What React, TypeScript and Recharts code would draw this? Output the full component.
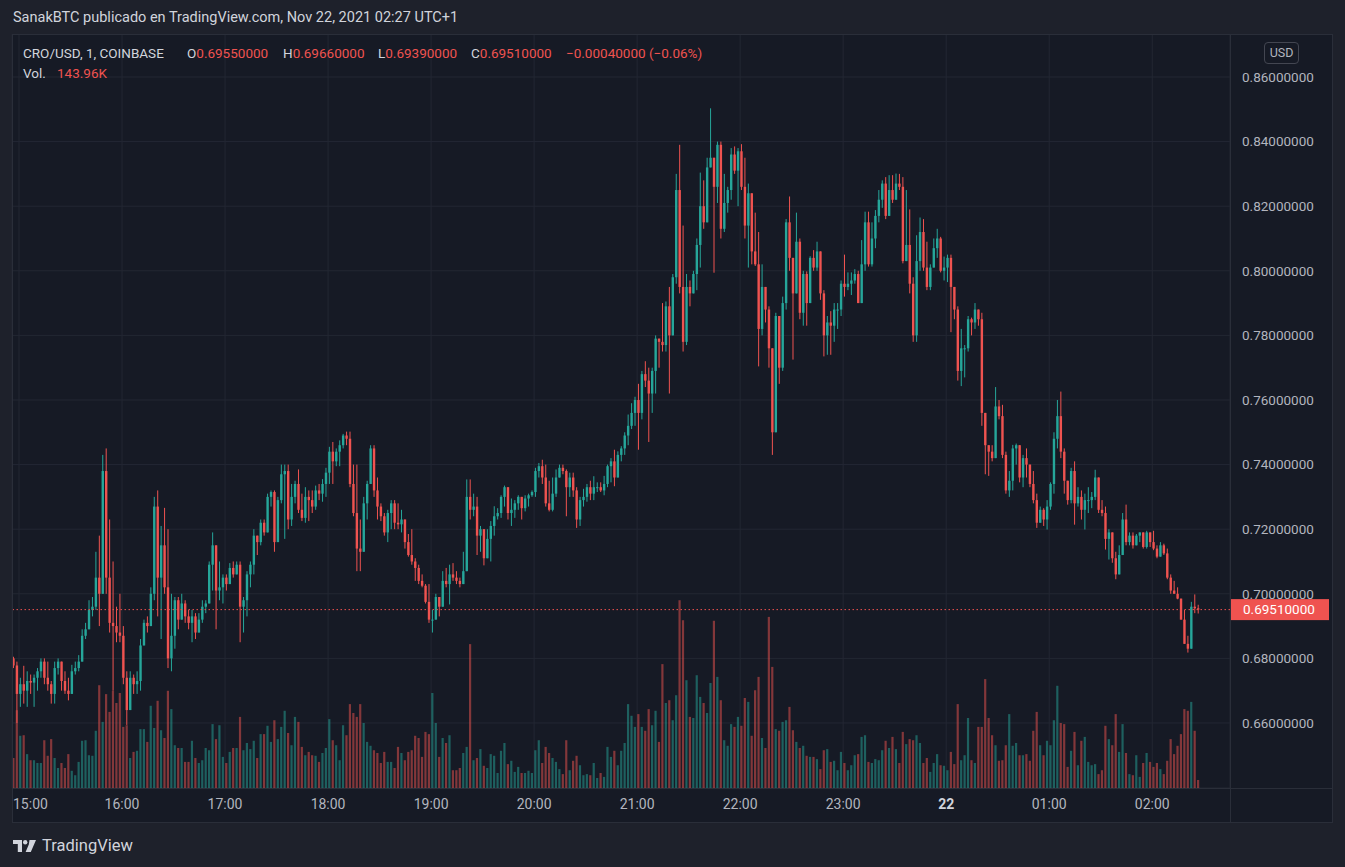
import { ComposedChart, Bar, Cell, XAxis, YAxis, CartesianGrid, ReferenceLine } from 'recharts'

// Prices are in 1/10000 USD, volumes in thousands.
const UP = '#26a69a'
const DOWN = '#ef5350'
const PANE = '#161a25'
const PAGE = '#1e212b'
const GRID = '#232733'
const BORDER = '#2a2e39'
const AXIS_TEXT = '#b2b5be'
const TITLE_TEXT = '#d1d4dc'
const FONT = 'Roboto, "Noto Sans", sans-serif'

const firstCandleMin = -4 // minutes after 15:00
const candleMinutes = 2
const firstOpen = 6800

const closes = [
  6778, 6690, 6720, 6700, 6730, 6725, 6740, 6760, 6790, 6740, 6720, 6690, 6770, 6790, 6730, 6700, 6690, 6760, 6770, 6790, 6870, 6890, 6950, 6960, 7050, 7000, 7380, 7050, 6910, 6900, 6880, 6870,
  6740, 6640, 6740, 6720, 6730, 6840, 6910, 6900, 7000, 7270, 7050, 7150, 7020, 6800, 6870, 6980, 6920, 6970, 6930, 6910, 6930, 6880, 6920, 6960, 6970, 7090, 7150, 7010, 7020, 7050,
  7030, 7080, 7060, 7090, 6960, 6980, 7060, 7090, 7180, 7160, 7220, 7190, 7300, 7315, 7160, 7290, 7370, 7380, 7230, 7300, 7340, 7260, 7235, 7300, 7290, 7270, 7320, 7310, 7340, 7375,
  7440, 7410, 7440, 7460, 7490, 7480, 7340, 7250, 7140, 7130, 7280, 7340, 7450, 7320, 7270, 7240, 7190, 7250, 7280, 7220, 7215, 7230, 7160, 7120, 7100, 7080, 7040, 7025, 6975, 6920,
  6920, 6990, 6960, 7040, 7030, 7060, 7050, 7040, 7030, 7070, 7300, 7260, 7270, 7180, 7200, 7110, 7170, 7210, 7240, 7250, 7300, 7330, 7250, 7260, 7280, 7300, 7265, 7295, 7305, 7315,
  7380, 7395, 7360, 7280, 7260, 7310, 7360, 7390, 7380, 7330, 7360, 7320, 7230, 7290, 7300, 7330, 7310, 7330, 7330, 7320, 7340, 7395, 7410, 7360, 7430, 7450, 7490, 7520, 7560, 7600,
  7560, 7680, 7660, 7620, 7690, 7790, 7780, 7770, 7890, 7800, 7980, 8250, 7950, 7780, 7950, 7930, 7990, 8080, 8200, 8150, 8320, 8350, 8260, 8390, 8130, 8210, 8250, 8360, 8310, 8370,
  8260, 8140, 8240, 8060, 8020, 7820, 7950, 7880, 7760, 7500, 7860, 7700, 7900, 8150, 8040, 7930, 8090, 7870, 7990, 7900, 8040, 8010, 8060, 7930, 7800, 7840, 7830, 7880, 7880, 7960,
  7950, 7960, 7970, 7990, 7900, 8020, 8150, 8020, 8100, 8170, 8220, 8270, 8170, 8250, 8220, 8270, 8260, 8030, 8080, 7960, 7800, 8030, 8120, 8010, 7950, 8010, 8070, 8100, 8000, 8010,
  8040, 7950, 7880, 7690, 7760, 7760, 7850, 7840, 7880, 7850, 7560, 7460, 7440, 7420, 7580, 7550, 7430, 7320, 7350, 7450, 7460, 7360, 7420, 7400, 7340, 7290, 7220, 7260, 7230, 7270,
  7340, 7480, 7550, 7440, 7350, 7290, 7380, 7280, 7300, 7260, 7290, 7290, 7300, 7360, 7260, 7250, 7170, 7190, 7110, 7060, 7120, 7230, 7160, 7180, 7150, 7180, 7190, 7145, 7190, 7160,
  7140, 7115, 7150, 7125, 7050, 7010, 7000, 6985, 6920, 6845, 6830, 6960, 6955, 6951,
]

const highs = [
  6805, 6790, 6740, 6777, 6760, 6750, 6750, 6770, 6800, 6800, 6790, 6730, 6790, 6800, 6790, 6760, 6740, 6780, 6790, 6810, 6890, 6910, 6980, 6990, 7130, 7180, 7430, 7450, 7230, 7100, 6960, 7000,
  6900, 6760, 6760, 6750, 6760, 6860, 6920, 6930, 7020, 7300, 7320, 7210, 7266, 7200, 7000, 6990, 6990, 7000, 6980, 6950, 6950, 6940, 6940, 6980, 6980, 7100, 7190, 7110, 7100, 7060,
  7060, 7095, 7100, 7100, 7100, 6990, 7070, 7100, 7200, 7170, 7230, 7230, 7310, 7320, 7320, 7300, 7400, 7400, 7400, 7340, 7350, 7385, 7310, 7330, 7320, 7320, 7335, 7340, 7355, 7390,
  7455, 7470, 7450, 7475, 7495, 7502, 7502, 7400, 7400, 7230, 7300, 7350, 7460, 7460, 7360, 7280, 7250, 7260, 7290, 7290, 7280, 7260, 7230, 7185, 7200, 7110, 7090, 7060, 7030, 7030,
  6950, 7000, 6970, 7070, 7080, 7090, 7095, 7070, 7050, 7130, 7354, 7354, 7310, 7300, 7210, 7170, 7200, 7225, 7271, 7265, 7305, 7335, 7320, 7295, 7290, 7305, 7290, 7305, 7310, 7320,
  7390, 7405, 7415, 7400, 7350, 7360, 7385, 7400, 7400, 7385, 7375, 7375, 7330, 7300, 7325, 7340, 7350, 7364, 7345, 7345, 7365, 7400, 7420, 7446, 7441, 7457, 7500, 7555, 7590, 7610,
  7650, 7690, 7720, 7700, 7700, 7800, 7790, 7900, 7905, 7950, 7990, 8300, 8390, 8140, 7990, 7970, 8000, 8100, 8304, 8280, 8350, 8503, 8345, 8400, 8400, 8300, 8260, 8380, 8385, 8380,
  8392, 8350, 8270, 8200, 8180, 8120, 8020, 7950, 7890, 7740, 7870, 7800, 7920, 8160, 8230, 8030, 8180, 8100, 8000, 7998, 8045, 8064, 8090, 8050, 7940, 7860, 7875, 7900, 7900, 7970,
  8050, 7995, 7995, 8005, 8000, 8095, 8183, 8183, 8150, 8188, 8250, 8280, 8290, 8296, 8296, 8301, 8300, 8290, 8250, 8190, 7980, 8110, 8165, 8160, 8090, 8020, 8100, 8130, 8105, 8044,
  8050, 8050, 7940, 7890, 7820, 7770, 7860, 7855, 7900, 7870, 7870, 7560, 7460, 7460, 7640, 7600, 7585, 7440, 7380, 7461, 7465, 7450, 7430, 7450, 7390, 7380, 7310, 7270, 7265, 7290,
  7345, 7500, 7600, 7626, 7450, 7350, 7390, 7410, 7330, 7320, 7310, 7330, 7315, 7384, 7345, 7290, 7270, 7200, 7180, 7130, 7150, 7250, 7276, 7190, 7190, 7185, 7190, 7185, 7195, 7190,
  7195, 7150, 7160, 7155, 7140, 7060, 7040, 7020, 6985, 6950, 6870, 6975, 6998, 6966,
]

const lows = [
  6770, 6600, 6650, 6660, 6650, 6690, 6650, 6700, 6740, 6720, 6700, 6660, 6660, 6750, 6700, 6690, 6670, 6710, 6750, 6760, 6820, 6860, 6920, 6930, 6950, 6900, 7020, 7000, 6880, 6700, 6850, 6850,
  6720, 6594, 6640, 6690, 6690, 6700, 6840, 6880, 6920, 6980, 6930, 6860, 7000, 6770, 6760, 6830, 6890, 6920, 6910, 6890, 6850, 6860, 6890, 6910, 6940, 6970, 7010, 6890, 6980, 6970,
  7010, 7050, 7050, 7070, 6850, 6880, 6930, 7020, 7060, 7120, 7150, 7180, 7190, 7270, 7130, 7170, 7280, 7170, 7200, 7210, 7280, 7250, 7225, 7220, 7225, 7250, 7260, 7290, 7285, 7300,
  7340, 7340, 7395, 7395, 7450, 7460, 7330, 7240, 7070, 7070, 7160, 7230, 7360, 7300, 7230, 7225, 7180, 7160, 7200, 7200, 7200, 7190, 7140, 7115, 7090, 7040, 7030, 7020, 6970, 6910,
  6880, 6930, 6930, 6960, 7020, 6967, 7040, 7030, 7020, 7030, 7110, 7230, 7240, 7120, 7130, 7088, 7110, 7100, 7180, 7230, 7235, 7270, 7230, 7210, 7235, 7260, 7230, 7255, 7270, 7300,
  7300, 7360, 7340, 7270, 7255, 7255, 7300, 7360, 7370, 7240, 7300, 7300, 7204, 7210, 7270, 7285, 7290, 7290, 7315, 7315, 7305, 7330, 7345, 7333, 7390, 7410, 7430, 7460, 7510, 7520,
  7446, 7540, 7640, 7470, 7560, 7620, 7700, 7750, 7750, 7620, 7900, 7960, 7930, 7750, 7770, 7890, 7950, 7940, 8010, 8130, 8160, 8330, 7994, 8210, 8100, 8120, 8180, 8220, 8300, 8200,
  8250, 8100, 8010, 8020, 8015, 7704, 7800, 7840, 7700, 7430, 7600, 7650, 7690, 7880, 8000, 7725, 7950, 7850, 7830, 7830, 7930, 8000, 8000, 7910, 7735, 7740, 7740, 7780, 7820, 7860,
  7920, 7940, 7925, 7960, 7900, 7905, 8000, 8013, 8013, 8070, 8150, 8195, 8160, 8215, 8210, 8250, 8250, 8023, 8040, 7930, 7780, 7780, 8000, 8000, 7940, 7940, 8010, 8040, 7995, 7970,
  7965, 7810, 7850, 7660, 7643, 7670, 7750, 7800, 7820, 7830, 7520, 7370, 7365, 7410, 7430, 7540, 7420, 7310, 7300, 7320, 7400, 7345, 7330, 7360, 7330, 7280, 7204, 7220, 7210, 7199,
  7260, 7310, 7450, 7420, 7310, 7276, 7280, 7214, 7270, 7230, 7199, 7250, 7265, 7290, 7250, 7240, 7137, 7106, 7096, 7045, 7080, 7150, 7150, 7150, 7140, 7150, 7160, 7140, 7140, 7145,
  7135, 7110, 7115, 7120, 7045, 7000, 7000, 6983, 6920, 6845, 6818, 6830, 6940, 6939,
]

const volumes = [
  540, 1400, 940, 950, 610, 500, 500, 450, 450, 860, 580, 880, 540, 360, 450, 360, 610, 310, 230, 470, 850, 860, 590, 580, 1030, 1850, 1190, 1690, 1370, 1750, 1530, 1710,
  1100, 1130, 540, 650, 670, 1060, 1060, 830, 1480, 1080, 1570, 1040, 900, 1750, 1420, 770, 720, 720, 470, 470, 850, 540, 450, 500, 720, 680, 1150, 880, 1130, 560,
  450, 650, 720, 720, 1280, 680, 810, 700, 850, 540, 970, 970, 1120, 830, 1220, 880, 1100, 1390, 990, 770, 1280, 1190, 740, 590, 650, 590, 580, 470, 630, 720,
  1240, 860, 770, 500, 1130, 950, 1510, 1350, 1280, 1510, 1170, 830, 760, 680, 630, 450, 650, 470, 470, 360, 740, 630, 500, 650, 680, 940, 900, 560, 1010, 970,
  1710, 1170, 560, 900, 810, 950, 320, 320, 360, 630, 740, 2590, 500, 540, 700, 400, 360, 610, 580, 270, 670, 810, 430, 490, 290, 380, 270, 270, 310, 270,
  680, 860, 450, 740, 630, 540, 470, 340, 250, 860, 320, 490, 580, 410, 230, 250, 230, 450, 180, 270, 200, 740, 560, 670, 410, 670, 810, 1510, 1300, 1100,
  1330, 1100, 1030, 1420, 1130, 1390, 830, 2230, 1530, 1580, 1220, 1670, 3380, 3020, 1940, 1280, 1260, 2030, 1640, 1530, 1350, 1890, 3010, 2000, 1580, 860, 760, 1150, 1100, 1280,
  1120, 1620, 1550, 940, 1760, 2000, 900, 720, 3080, 2180, 1060, 1030, 1190, 1220, 1460, 1040, 830, 720, 760, 580, 560, 560, 520, 340, 680, 700, 470, 490, 320, 650,
  450, 320, 410, 590, 610, 920, 950, 470, 450, 520, 500, 680, 850, 720, 920, 700, 450, 1010, 790, 880, 860, 950, 810, 450, 540, 290, 450, 610, 410, 400,
  320, 650, 430, 1510, 500, 590, 1260, 500, 450, 1100, 1100, 1960, 1260, 950, 770, 490, 500, 770, 1330, 760, 810, 590, 590, 610, 490, 1030, 1370, 770, 590, 850,
  770, 1220, 1840, 1170, 1150, 380, 670, 1010, 410, 850, 920, 470, 410, 430, 250, 320, 1120, 880, 770, 1330, 650, 1150, 630, 250, 230, 590, 200, 450, 630, 470,
  380, 450, 340, 250, 490, 880, 610, 760, 970, 1420, 1390, 1550, 1030, 144,
]

// hour ticks in minutes after 15:00
const timeTicks = [0, 60, 120, 180, 240, 300, 360, 420, 480, 540, 600, 660]
const timeLabels = ['15:00', '16:00', '17:00', '18:00', '19:00', '20:00', '21:00', '22:00', '23:00', '22', '01:00', '02:00']
const priceTicks = [0.66, 0.68, 0.7, 0.72, 0.74, 0.76, 0.78, 0.8, 0.82, 0.84, 0.86]
const lastPrice = 0.6951
const legendOHLC = [
  { k: 'O', v: '0.69550000', left: 187 },
  { k: 'H', v: '0.69660000', left: 283 },
  { k: 'L', v: '0.69390000', left: 378 },
  { k: 'C', v: '0.69510000', left: 471 },
]

const rows = closes.map((c, i) => {
  const o = i === 0 ? firstOpen : closes[i - 1]
  const high = Math.max(highs[i], o, c) / 10000
  const low = Math.min(lows[i], o, c) / 10000
  return {
    t: firstCandleMin + i * candleMinutes + 0.5,
    open: o / 10000,
    close: c / 10000,
    high,
    low,
    range: [low, high],
    vol: volumes[i],
    up: c >= o,
  }
})

const BODY = 2.4

function Candle(props: any) {
  const { x, y, width, height, payload } = props
  if (x == null || !payload) return null
  const { open, close, high, low, up } = payload
  const color = up ? UP : DOWN
  const k = high > low ? height / (high - low) : 0
  const yOpen = y + (high - open) * k
  const yClose = y + (high - close) * k
  const cx = x + width / 2
  const top = Math.min(yOpen, yClose)
  const bodyH = Math.max(1, Math.abs(yOpen - yClose))
  return (
    <g>
      <line x1={cx} x2={cx} y1={y} y2={y + Math.max(height, 1)} stroke={color} strokeWidth={1} />
      <rect x={cx - BODY / 2} y={top} width={BODY} height={bodyH} fill={color} />
    </g>
  )
}

function TimeTick(props: any) {
  const { x, y, payload } = props
  const idx = timeTicks.indexOf(payload.value)
  const label = timeLabels[idx]
  const bold = label === '22'
  // the first label sits on the pane edge; anchor it at its start so it stays whole
  const first = idx === 0
  return (
    <text x={first ? x - 6 : x} y={y} dy={13} textAnchor={first ? 'start' : 'middle'} fill={bold ? TITLE_TEXT : AXIS_TEXT}
      fontSize={14} fontWeight={bold ? 700 : 400} fontFamily={FONT}>
      {label}
    </text>
  )
}

function PriceTag(props: any) {
  const vb = props.viewBox
  if (!vb) return null
  const x = vb.x + vb.width
  return (
    <g>
      <rect x={x} y={vb.y - 10.5} width={99} height={21} fill={DOWN} />
      <text x={x + 13} y={vb.y} dy="0.36em" fill="#ffffff" fontSize={13.5} fontFamily={FONT}>
        {lastPrice.toFixed(8)}
      </text>
    </g>
  )
}

export default function App() {
  const legendText = { position: 'absolute' as const, top: 45, fontSize: 13.5, lineHeight: '16px', fontFamily: FONT, whiteSpace: 'nowrap' as const }
  return (
    <div style={{ position: 'fixed', left: 0, top: 0, width: 1345, height: 867, background: PAGE, overflow: 'hidden', fontFamily: FONT }}>
      <div style={{ position: 'absolute', left: 13, top: 9, fontSize: 14.5, lineHeight: '18px', color: TITLE_TEXT }}>
        SanakBTC publicado en TradingView.com, Nov 22, 2021 02:27 UTC+1
      </div>

      <div style={{ position: 'absolute', left: 12, top: 34, width: 1320, height: 788, background: PANE }} />

      <ComposedChart width={1323} height={788} data={rows} margin={{ top: 0, right: 0, bottom: 0, left: 3 }}
        style={{ position: 'absolute', left: 9, top: 34 }}>
        <CartesianGrid stroke={GRID} />
        <XAxis dataKey="t" type="number" domain={[-4.08, 705.3]} allowDataOverflow ticks={timeTicks} interval={0}
          tick={<TimeTick />} tickLine={false} axisLine={false} height={34} />
        <XAxis xAxisId="vx" dataKey="t" type="number" domain={[-4.08, 705.3]} allowDataOverflow hide />
        <YAxis orientation="right" type="number" domain={[0.63987, 0.87331]} allowDataOverflow ticks={priceTicks} interval={0}
          tickFormatter={(v: number) => v.toFixed(8)} width={102} tickLine={false} axisLine={false} tickMargin={6}
          tick={{ fill: AXIS_TEXT, fontSize: 13.5, fontFamily: FONT }} />
        <YAxis yAxisId="vol" type="number" domain={[0, 13572]} allowDataOverflow hide />
        <Bar xAxisId="vx" yAxisId="vol" dataKey="vol" barSize={2.2} isAnimationActive={false}>
          {rows.map((r, i) => (
            <Cell key={i} fill={r.up ? UP : DOWN} fillOpacity={0.5} />
          ))}
        </Bar>
        <Bar dataKey="range" barSize={BODY} isAnimationActive={false} shape={(p: any) => <Candle {...p} />} />
        <ReferenceLine y={lastPrice} stroke={DOWN} strokeDasharray="1.5 2.5" label={<PriceTag />} />
      </ComposedChart>

      {/* pane frame and axis separators */}
      <div style={{ position: 'absolute', left: 12, top: 34, width: 1319, height: 787, border: `1px solid ${BORDER}`, boxSizing: 'content-box', pointerEvents: 'none' }} />
      <div style={{ position: 'absolute', left: 1230, top: 34, width: 1, height: 788, background: BORDER }} />
      <div style={{ position: 'absolute', left: 12, top: 788, width: 1320, height: 1, background: BORDER }} />

      <div style={{ ...legendText, left: 23, color: TITLE_TEXT }}>CRO/USD, 1, COINBASE</div>
      {legendOHLC.map((e) => (
        <div key={e.k} style={{ ...legendText, left: e.left }}>
          <span style={{ color: TITLE_TEXT }}>{e.k}</span>
          <span style={{ color: DOWN }}>{e.v}</span>
        </div>
      ))}
      <div style={{ ...legendText, left: 566, color: DOWN }}>−0.00040000 (−0.06%)</div>
      <div style={{ ...legendText, top: 65, left: 23, color: TITLE_TEXT }}>Vol.</div>
      <div style={{ ...legendText, top: 65, left: 57, color: DOWN }}>143.96K</div>

      <div style={{ position: 'absolute', left: 1264, top: 42, width: 33, height: 20, border: '1px solid #434651', borderRadius: 4,
        color: AXIS_TEXT, fontSize: 12.5, lineHeight: '20px', textAlign: 'center' }}>USD</div>

      <div style={{ position: 'absolute', left: 13, top: 836, display: 'flex', alignItems: 'center', gap: 5, color: TITLE_TEXT }}>
        <svg width={24} height={14} viewBox="0 0 24 14">
          <path d="M0 1h9v12h-4.2v-8H0z" fill={TITLE_TEXT} />
          <circle cx={12.2} cy={3.2} r={2.2} fill={TITLE_TEXT} />
          <path d="M16.5 1h6.5l-5.2 12h-5.2l3.2-7.5z" fill={TITLE_TEXT} />
        </svg>
        <span style={{ fontSize: 16.5, lineHeight: '20px' }}>TradingView</span>
      </div>
    </div>
  )
}
